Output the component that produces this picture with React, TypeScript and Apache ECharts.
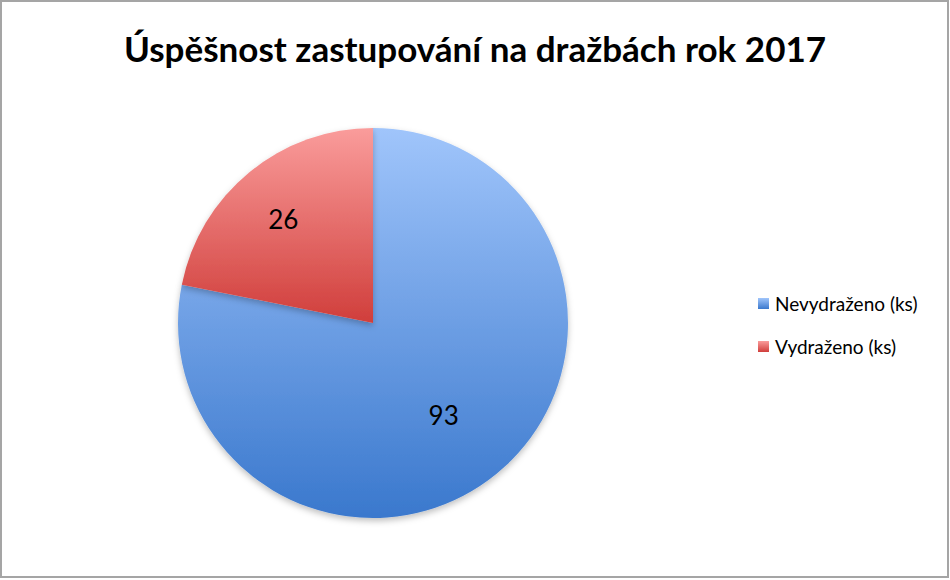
import React, { useEffect, useRef } from "react";
import * as echarts from "echarts";

const titleText = "Úspěšnost zastupování na dražbách rok 2017";
const categories = ["Nevydraženo (ks)", "Vydraženo (ks)"];
const values = [93, 26];
const topColors = ["#a0c5fb", "#fa9c9b"];
const bottomColors = ["#3a78cd", "#d03e3b"];
const labelOffsets = [[7, 14], [-26, -26]];

export default function App() {
  const ref = useRef<HTMLDivElement>(null);
  useEffect(() => {
    document.body.style.margin = "0";
    const chart = echarts.init(ref.current!, null, { renderer: "svg" });
    const font = "Lato, 'Open Sans', sans-serif";
    chart.setOption({
      animation: false,
      backgroundColor: "#ffffff",
      title: {
        text: titleText,
        left: "center",
        top: 25,
        textStyle: { fontFamily: font, fontSize: 35, fontWeight: "bold", color: "#000" },
      },
      legend: {
        orient: "vertical",
        left: 753,
        top: 289,
        itemWidth: 11,
        itemHeight: 11,
        itemGap: 24,
        icon: "rect",
        textStyle: { fontFamily: font, fontSize: 19, color: "#000", padding: [0, 0, 0, 1] },
        data: categories,
      },
      graphic: [
        {
          type: "rect",
          shape: { x: 1, y: 1, width: 947, height: 576 },
          style: { fill: "none", stroke: "#a5a5a5", lineWidth: 2 },
          silent: true,
        },
      ],
      series: [
        {
          type: "pie",
          center: [373, 323],
          radius: 195,
          startAngle: 90,
          clockwise: true,
          label: {
            show: true,
            position: "inside",
            formatter: "{c}",
            fontFamily: font,
            fontSize: 26,
            color: "#000",
          },
          labelLine: { show: false },
          emphasis: { disabled: true },
          itemStyle: {
            shadowBlur: 6,
            shadowOffsetY: 3,
            shadowColor: "rgba(0,0,0,0.25)",
          },
          data: categories.map((name, i) => ({
            name,
            value: values[i],
            label: { offset: labelOffsets[i] },
            itemStyle: {
              color: new echarts.graphic.LinearGradient(0, 0, 0, 1, [
                { offset: 0, color: topColors[i] },
                { offset: 1, color: bottomColors[i] },
              ]),
            },
          })),
        },
      ],
    });
    return () => chart.dispose();
  }, []);
  return <div ref={ref} style={{ position: "absolute", left: 0, top: 0, width: 950, height: 580 }} />;
}
